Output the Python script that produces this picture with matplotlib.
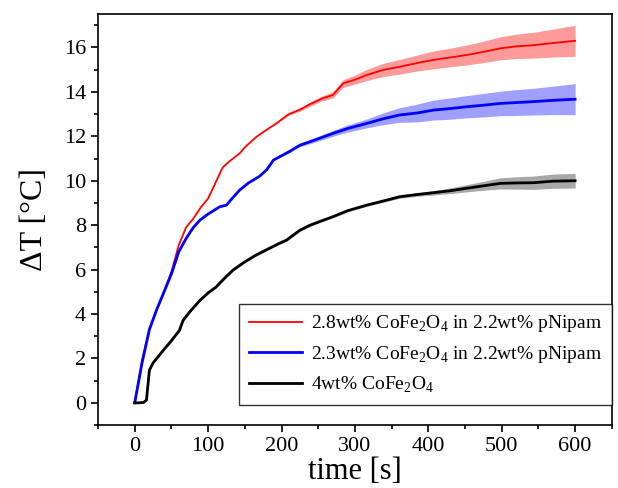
import matplotlib
matplotlib.use('Agg')
import matplotlib.pyplot as plt
from matplotlib.ticker import MultipleLocator
import numpy as np

plt.rcParams['font.family'] = 'Liberation Serif'
plt.rcParams['mathtext.fontset'] = 'custom'
plt.rcParams['mathtext.rm'] = 'Liberation Serif'

# 2.8wt% CoFe2O4 in 2.2wt% pNipam
t_red = [0, 10, 20, 30, 40, 50, 60, 70, 80, 90, 100, 110, 116, 120, 130, 143, 150, 166,
         180, 193, 210, 225, 239, 255, 270, 284, 300, 316, 340, 361, 385, 407, 430, 452,
         475, 498, 520, 543, 570, 600]
T_red = [0, 1.9, 3.3, 4.2, 5.0, 5.9, 7.1, 7.9, 8.3, 8.8, 9.2, 9.9, 10.33, 10.6, 10.9,
         11.23, 11.5, 11.98, 12.3, 12.58, 13.0, 13.2, 13.45, 13.7, 13.86, 14.38, 14.55,
         14.76, 15.0, 15.13, 15.3, 15.44, 15.55, 15.66, 15.8, 15.96, 16.05, 16.1, 16.2, 16.3]
err_red = [0, 0, 0, 0, 0, 0, 0, 0, 0, 0, 0, 0, 0, 0, 0, 0, 0, 0, 0, 0.02, 0.05, 0.07,
           0.09, 0.11, 0.14, 0.17, 0.2, 0.25, 0.3, 0.33, 0.36, 0.4, 0.42, 0.45, 0.48,
           0.52, 0.55, 0.58, 0.63, 0.7]

# 2.3wt% CoFe2O4 in 2.2wt% pNipam
t_blue = [0, 10, 20, 30, 40, 50, 60, 65, 70, 80, 89, 100, 116, 125, 130, 143, 155, 170,
          180, 189, 210, 225, 239, 255, 270, 290, 316, 340, 361, 385, 407, 430, 452, 475,
          498, 520, 543, 570, 600]
T_blue = [0, 1.8, 3.3, 4.2, 5.0, 5.8, 6.8, 7.1, 7.4, 7.9, 8.23, 8.5, 8.83, 8.9, 9.1,
          9.58, 9.9, 10.2, 10.5, 10.93, 11.3, 11.6, 11.76, 11.95, 12.13, 12.35, 12.58,
          12.8, 12.96, 13.05, 13.18, 13.25, 13.33, 13.4, 13.48, 13.52, 13.56, 13.62, 13.67]
err_blue = [0, 0, 0, 0, 0, 0, 0, 0, 0, 0, 0, 0, 0, 0, 0, 0, 0, 0, 0, 0.02, 0.05, 0.07,
            0.09, 0.11, 0.13, 0.16, 0.2, 0.27, 0.33, 0.4, 0.45, 0.48, 0.5, 0.53, 0.55,
            0.58, 0.6, 0.64, 0.7]

# 4wt% CoFe2O4
t_black = [0, 5, 12, 16, 20, 25, 30, 39, 50, 61, 66, 75, 89, 100, 111, 122, 134, 150,
           165, 180, 195, 207, 225, 239, 255, 270, 290, 316, 340, 361, 385, 407, 430,
           452, 475, 498, 520, 543, 570, 600]
T_black = [0, 0, 0.02, 0.12, 1.47, 1.8, 2.0, 2.37, 2.8, 3.27, 3.72, 4.1, 4.62, 4.95,
           5.22, 5.6, 5.98, 6.35, 6.65, 6.9, 7.15, 7.33, 7.77, 8.0, 8.2, 8.38, 8.65, 8.9,
           9.1, 9.28, 9.38, 9.46, 9.55, 9.66, 9.77, 9.88, 9.9, 9.91, 9.98, 10.0]
err_black = [0, 0.04, 0.04, 0.04, 0.05, 0.05, 0.05, 0.05, 0.05, 0.05, 0.05, 0.05, 0.05,
             0.05, 0.05, 0.05, 0.05, 0.05, 0.05, 0.05, 0.05, 0.05, 0.05, 0.05, 0.05,
             0.05, 0.05, 0.05, 0.06, 0.07, 0.08, 0.1, 0.13, 0.16, 0.2, 0.25, 0.28, 0.3,
             0.32, 0.33]

labels = [r'2.8wt% CoFe$_2$O$_4$ in 2.2wt% pNipam',
          r'2.3wt% CoFe$_2$O$_4$ in 2.2wt% pNipam',
          r'4wt% CoFe$_2$O$_4$']

fig = plt.figure(figsize=(6.18, 4.88), dpi=100)
ax = fig.add_axes([0.1586, 0.129, 0.8314, 0.842])

series = [
    (t_red, T_red, err_red, 'red', '#ff9a9a', 1.3),
    (t_blue, T_blue, err_blue, 'blue', '#a0a0ff', 2.0),
    (t_black, T_black, err_black, 'black', '#a8a8a8', 2.0),
]
for (t, T, e, c, fc, lw), lab in zip(series, labels):
    t = np.array(t); T = np.array(T); e = np.array(e)
    ax.fill_between(t, T - e, T + e, color=fc, lw=0)
    ax.plot(t, T, color=c, lw=lw, label=lab)

ax.set_xlim(-50, 650)
ax.set_ylim(-1, 17.5)
ax.xaxis.set_major_locator(MultipleLocator(100))
ax.xaxis.set_minor_locator(MultipleLocator(50))
ax.yaxis.set_major_locator(MultipleLocator(2))
ax.yaxis.set_minor_locator(MultipleLocator(1))
ax.tick_params(which='both', direction='out', labelsize=16, width=1.2)
ax.tick_params(which='major', length=5)
ax.tick_params(which='minor', length=3)
for s in ax.spines.values():
    s.set_linewidth(1.2)

ax.set_xlabel('time [s]', fontsize=22, labelpad=1)
ax.set_ylabel('ΔT [°C]', fontsize=23, labelpad=11)

leg = ax.legend(loc='lower right', bbox_to_anchor=(1.0, 0.049), fontsize=14,
                frameon=True, fancybox=False, edgecolor='black', borderaxespad=0,
                handlelength=2.75, handletextpad=0.45, labelspacing=0.5, borderpad=0.5)
leg.get_frame().set_linewidth(1.0)

fig.savefig('out.png', dpi=100)
